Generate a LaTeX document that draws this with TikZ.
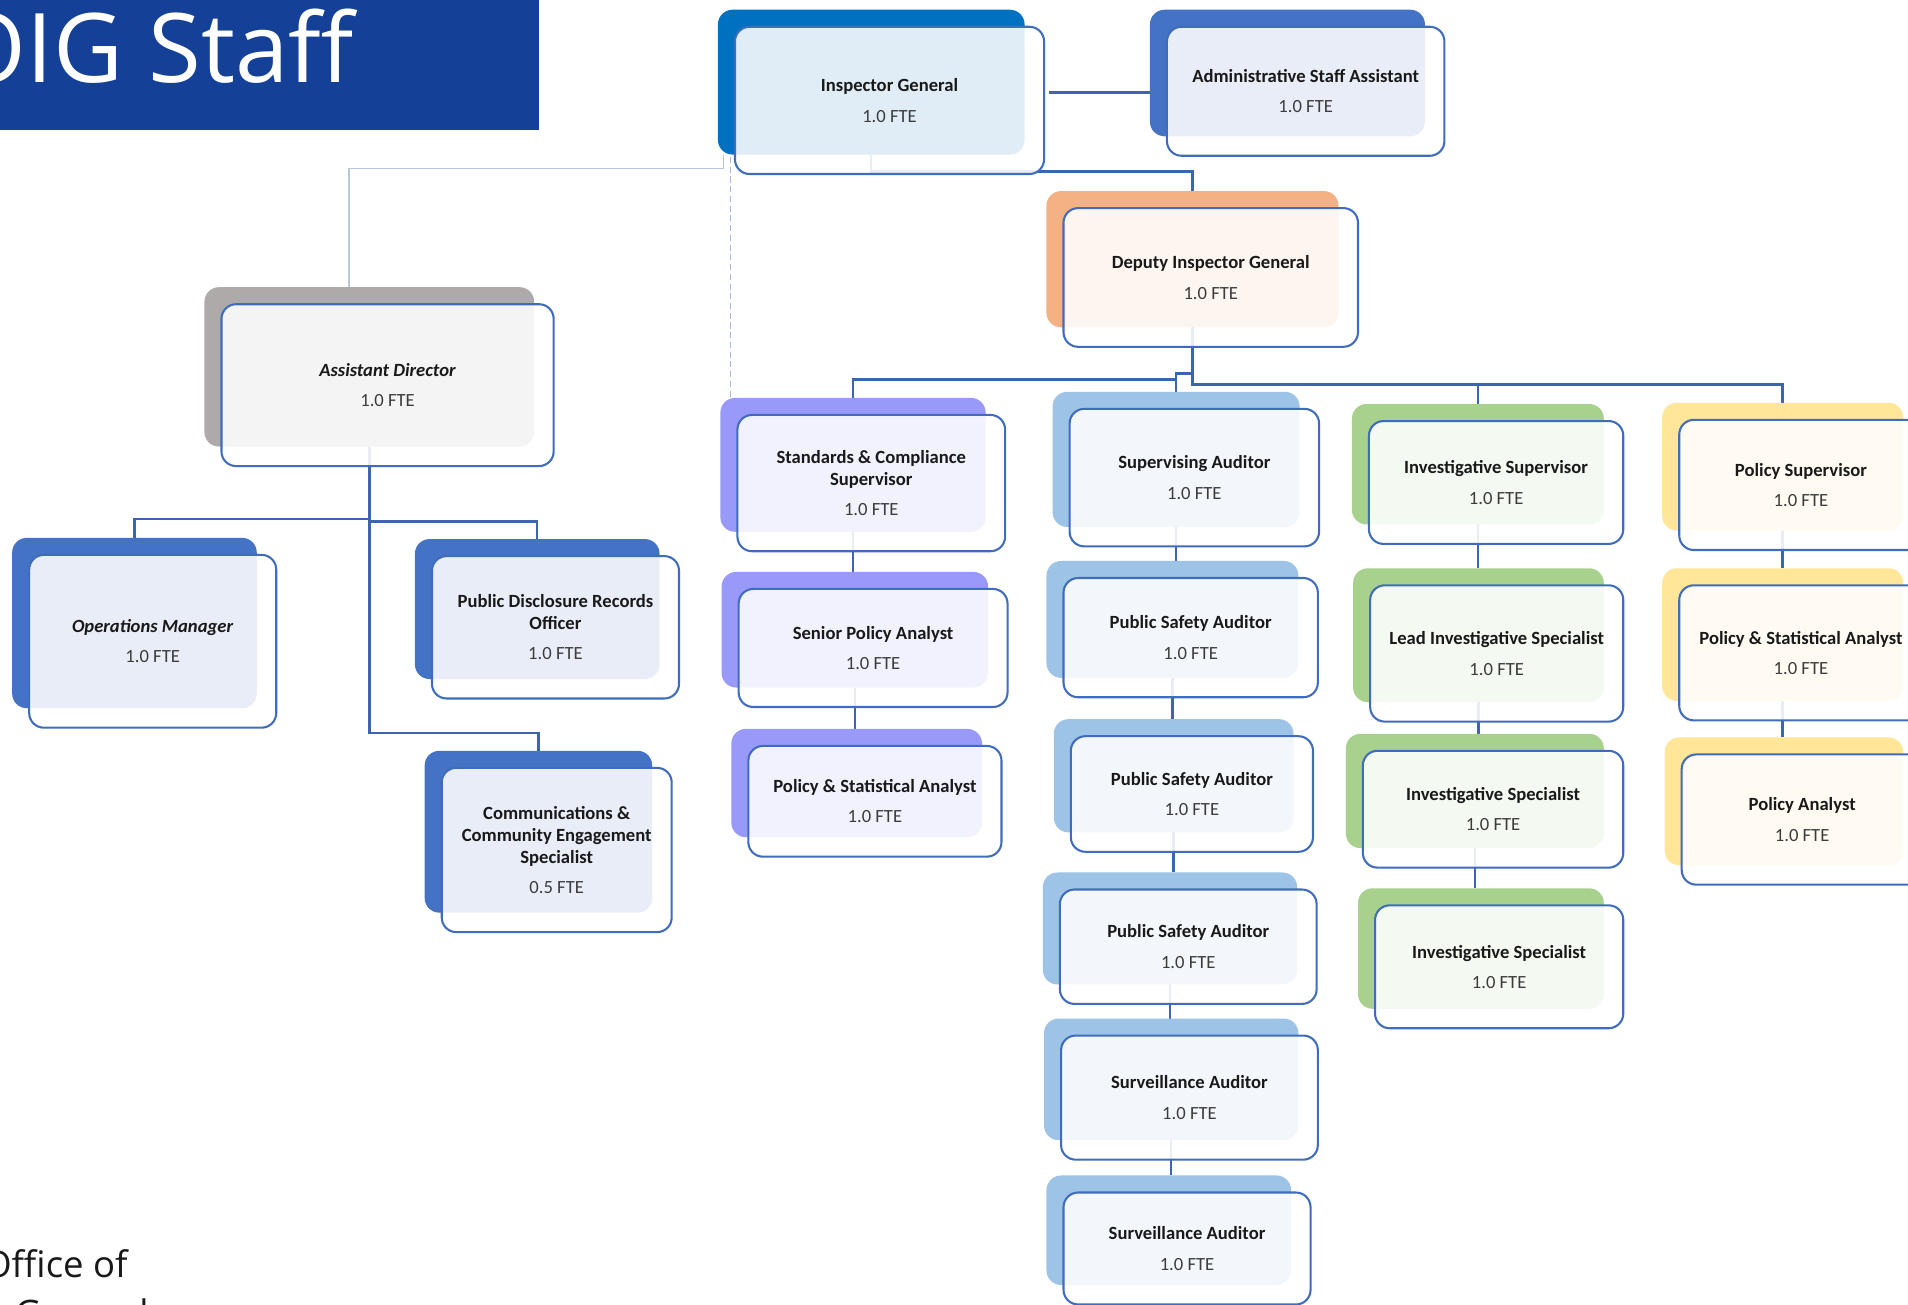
\documentclass[tikz,border=0pt]{standalone}
\usepackage{fontspec}
\setmainfont{Carlito}
\newfontfamily\titlefont{Open Sans}
\usetikzlibrary{calc}
\definecolor{bannerblue}{RGB}{21,64,151}
\definecolor{igblue}{RGB}{0,112,192}
\definecolor{midblue}{RGB}{68,114,196}
\definecolor{orangeb}{RGB}{244,177,131}
\definecolor{grayb}{RGB}{174,170,170}
\definecolor{purpleb}{RGB}{153,153,250}
\definecolor{lblue}{RGB}{157,195,230}
\definecolor{greenb}{RGB}{169,209,142}
\definecolor{yellowb}{RGB}{255,230,153}
\definecolor{framec}{RGB}{64,108,190}
\definecolor{connc}{RGB}{60,100,176}
\definecolor{thinc}{RGB}{185,198,220}
\definecolor{dashc}{RGB}{165,185,222}
\definecolor{txt}{RGB}{25,25,25}
\definecolor{ftec}{RGB}{60,60,60}
\pgfdeclarelayer{bg}
\pgfsetlayers{bg,main}
\tikzset{
  backbox/.style={rectangle, rounded corners=12pt, draw=none, inner sep=0pt, outer sep=0pt},
  frontbox/.style={rectangle, rounded corners=12pt, draw=framec, line width=1.7pt, fill=white,
     fill opacity=0.88, text opacity=1, draw opacity=1, align=center, inner sep=0pt, outer sep=0pt,
     text=txt, font=\fontsize{15.3}{18}\selectfont},
  conn/.style={draw=connc, line width=2pt},
  thinconn/.style={draw=thinc, line width=1.3pt},
  dashconn/.style={draw=dashc, line width=0.9pt, dash pattern=on 5pt off 3pt},
}
\newcommand\orgbox[7]{%
  \node[backbox, fill=#2, minimum width={(#5-#3-2)*1pt}, minimum height={(#6-#4-2)*1pt}]
     (#1b) at ({(#3+#5)/2-15},{(#4+#6)/2-15}) {};
  \node[frontbox, minimum width={(#5-#3)*1pt}, minimum height={(#6-#4)*1pt}]
     (#1) at ({(#3+#5)/2},{(#4+#6)/2}) {#7};
}
\newcommand\fte[1]{\\[7pt]{\color{ftec}#1}}
\begin{document}
\begin{tikzpicture}[x=1pt,y=-1pt]
\useasboundingbox (0,0) rectangle (1568,1072);
% banner
\node[fill=bannerblue, anchor=north west, minimum width=448pt, minimum height=112pt, inner sep=0pt] (banner) at (-5,-5) {};
\node[anchor=base east, text=white, inner sep=0pt, font=\titlefont\fontsize{79}{79}\selectfont] (title) at (291,68) {OIG Staff};
\node[anchor=base east, text=txt, inner sep=0pt, font=\titlefont\fontsize{30}{30}\selectfont] (office) at (105,1050) {Office of};
\node[anchor=base west, text=txt, inner sep=0pt, font=\titlefont\fontsize{30}{30}\selectfont] (general) at (12,1090) {General};
% boxes
\orgbox{ig}{igblue}{604}{22}{858}{143}{\textbf{Inspector General}\fte{1.0 FTE}}
\orgbox{adm}{midblue}{959}{22}{1187}{128}{\textbf{Administrative Staff Assistant}\fte{1.0 FTE}}
\orgbox{dig}{orangeb}{874}{171}{1116}{285}{\textbf{Deputy Inspector General}\fte{1.0 FTE}}
\orgbox{ad}{grayb}{182}{250}{455}{383}{\textbf{\textit{Assistant Director}}\fte{1.0 FTE}}
\orgbox{ops}{midblue}{24}{456}{227}{598}{\textbf{\textit{Operations Manager}}\fte{1.0 FTE}}
\orgbox{pdro}{midblue}{355}{457}{558}{574}{\textbf{Public Disclosure Records}\\\textbf{Officer}\fte{1.0 FTE}}
\orgbox{comm}{midblue}{363}{631}{552}{766}{\textbf{Communications \&}\\\textbf{Community Engagement}\\\textbf{Specialist}\fte{0.5 FTE}}
\orgbox{sc}{purpleb}{606}{341}{826}{453}{\textbf{Standards \& Compliance}\\\textbf{Supervisor}\fte{1.0 FTE}}
\orgbox{spa}{purpleb}{607}{484}{828}{581}{\textbf{Senior Policy Analyst}\fte{1.0 FTE}}
\orgbox{psl}{purpleb}{615}{613}{823}{704}{\textbf{Policy \& Statistical Analyst}\fte{1.0 FTE}}
\orgbox{sa}{lblue}{879}{336}{1084}{449}{\textbf{Supervising Auditor}\fte{1.0 FTE}}
\orgbox{pa1}{lblue}{874}{475}{1083}{573}{\textbf{Public Safety Auditor}\fte{1.0 FTE}}
\orgbox{pa2}{lblue}{880}{605}{1079}{700}{\textbf{Public Safety Auditor}\fte{1.0 FTE}}
\orgbox{pa3}{lblue}{871}{731}{1082}{825}{\textbf{Public Safety Auditor}\fte{1.0 FTE}}
\orgbox{sv1}{lblue}{872}{851}{1083}{953}{\textbf{Surveillance Auditor}\fte{1.0 FTE}}
\orgbox{sv2}{lblue}{874}{980}{1077}{1072}{\textbf{Surveillance Auditor}\fte{1.0 FTE}}
\orgbox{isup}{greenb}{1125}{346}{1334}{447}{\textbf{Investigative Supervisor}\fte{1.0 FTE}}
\orgbox{lis}{greenb}{1126}{481}{1334}{593}{\textbf{Lead Investigative Specialist}\fte{1.0 FTE}}
\orgbox{isp1}{greenb}{1120}{617}{1334}{713}{\textbf{Investigative Specialist}\fte{1.0 FTE}}
\orgbox{isp2}{greenb}{1130}{744}{1334}{845}{\textbf{Investigative Specialist}\fte{1.0 FTE}}
\orgbox{ps}{yellowb}{1380}{345}{1580}{452}{\textbf{Policy Supervisor}\fte{1.0 FTE}}
\orgbox{psr}{yellowb}{1380}{481}{1580}{592}{\textbf{Policy \& Statistical Analyst}\fte{1.0 FTE}}
\orgbox{pol}{yellowb}{1382}{620}{1580}{727}{\textbf{Policy Analyst}\fte{1.0 FTE}}
% connectors
\begin{pgfonlayer}{bg}
\fill[white] (0,0) rectangle (1568,1072);
\draw[conn] ([xshift=4pt,yshift=6.5pt]ig.east) -- ([yshift=6.5pt]ig.east -| admb.west);
\draw[conn] (igb.south) -- ++(0,14) -| (digb.north);
\draw[thinconn] ([xshift=4.5pt]igb.south west) -- ++(0,11.3) -| ([xshift=-16.5pt]adb.north);
\draw[dashconn] ([xshift=10pt,yshift=-2pt]igb.south west) -- ([xshift=10pt]igb.south west |- scb.north);
\draw[conn] (digb.south) -- ++(0,47) -| (psb.north);
\draw[conn] (isupb.north) -- (isupb.north |- 0,316);
\draw[conn] ([yshift=-38pt]digb.south) -| (sab.north);
\draw[conn] ([yshift=10.3pt]sab.north) -| (scb.north);
\draw[conn] (scb.south) -- (scb.south |- spab.north);
\draw[conn] (spab.south) -- (spab.south |- pslb.north);
\draw[conn] (sab.south) -- (sab.south |- pa1b.north);
\draw[conn] (pa1b.south) -- (pa1b.south |- pa2b.north);
\draw[conn] (pa2b.south) -- (pa2b.south |- pa3b.north);
\draw[conn] (pa3b.south) -- (pa3b.south |- sv1b.north);
\draw[conn] (sv1b.south) -- (sv1b.south |- sv2b.north);
\draw[conn] (isupb.south) -- (isupb.south |- lisb.north);
\draw[conn] (lisb.south) -- (lisb.south |- isp1b.north);
\draw[conn] (isp1b.south) -- (isp1b.south |- isp2b.north);
\draw[conn] (psb.south) -- (psb.south |- psrb.north);
\draw[conn] (psrb.south) -- (psrb.south |- polb.north);
\draw[conn] (adb.south) -- ++(0,59.5) -| (opsb.north);
\draw[conn] ([yshift=-61.7pt]adb.south) -| (pdrob.north);
\draw[conn] (adb.south) -- ++(0,235.6) -| (commb.north);
\end{pgfonlayer}
\end{tikzpicture}
\end{document}
